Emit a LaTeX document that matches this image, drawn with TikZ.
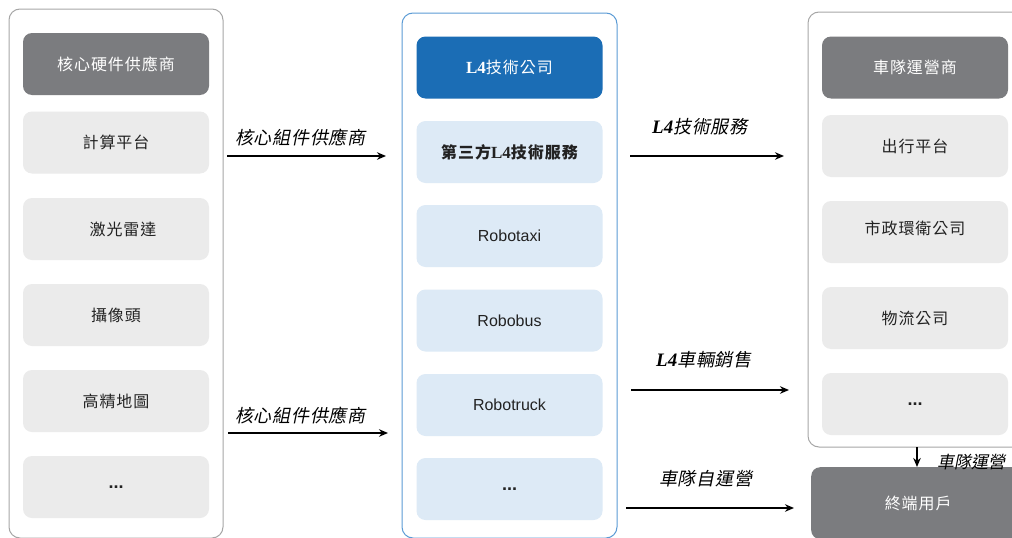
\documentclass[tikz,border=0pt]{standalone}
\usepackage{fontspec}
\setmainfont{Liberation Sans}
\newfontfamily\cjk[LetterSpace=6]{Noto Sans CJK TC}
\newfontfamily\cjksl[FakeSlant=0.2,LetterSpace=4]{Noto Sans CJK TC}
\newfontfamily\cjkslt[FakeSlant=0.2]{Noto Sans CJK TC}
\newfontfamily\tnr{Liberation Serif}
\usetikzlibrary{arrows.meta}
\definecolor{hdgray}{HTML}{7B7C7F}
\definecolor{itgray}{HTML}{EBEBEB}
\definecolor{boxline}{HTML}{A6A6A6}
\definecolor{hdblue}{HTML}{1B6DB5}
\definecolor{itblue}{HTML}{DDEAF6}
\definecolor{blueline}{HTML}{5B9BD5}
\definecolor{txt}{HTML}{222222}
\tikzset{
  container/.style={draw=boxline, line width=1pt, rounded corners=11pt, fill=white},
  bluecontainer/.style={draw=blueline, line width=1pt, rounded corners=11pt, fill=white},
  box/.style={rounded corners=9pt, minimum width=186pt, minimum height=62pt, inner sep=0pt, font=\cjk\fontsize{16}{19}\selectfont, text=txt},
  grayhead/.style={box, fill=hdgray, text=white},
  grayitem/.style={box, fill=itgray},
  bluehead/.style={box, fill=hdblue, text=white},
  blueitem/.style={box, fill=itblue},
  dots/.style={font=\bfseries\fontsize{18}{19}\selectfont},
  flow/.style={line width=2.3pt, -{Stealth[length=9pt,width=7.5pt]}},
  flowlabel/.style={font=\cjksl\fontsize{18}{21}\selectfont, text=black, inner sep=0pt},
}
\begin{document}
\begin{tikzpicture}[x=1pt,y=-1pt]
\useasboundingbox (0,0) rectangle (1012,538);
% containers
\draw[container] (9,9) rectangle (223,538);
\draw[bluecontainer] (402,13) rectangle (617,538);
\draw[container] (808,12) rectangle (1040,447);
\coordinate (rcb) at (917,447);

% left column
\node[grayhead] (lh) at (116,64) {核心硬件供應商};
\node[grayitem] (l1) at (116,142.5) {計算平台};
\node[grayitem] (l2) at (116,229) {\hspace*{14pt}激光雷達};
\node[grayitem] (l3) at (116,315) {攝像頭};
\node[grayitem] (l4) at (116,401) {高精地圖};
\node[grayitem, dots] (l5) at (116,487) {...};

% middle column
\node[bluehead] (mh) at (509.5,67.5) {{\tnr\bfseries\fontsize{17}{19}\selectfont L4}技術公司};
\node[blueitem, font=\cjk\bfseries\fontsize{16}{19}\selectfont] (m1) at (509.5,152) {第三方{\tnr\bfseries\fontsize{17}{19}\selectfont L4}技術服務};
\node[blueitem, font=\fontsize{16}{19}\selectfont] (m2) at (509.5,236) {Robotaxi};
\node[blueitem, font=\fontsize{16}{19}\selectfont] (m3) at (509.5,320.5) {Robobus};
\node[blueitem, font=\fontsize{16}{19}\selectfont] (m4) at (509.5,405) {Robotruck};
\node[blueitem, dots] (m5) at (509.5,489) {...};

% right column
\node[grayhead] (rh) at (915,67.5) {車隊運營商};
\node[grayitem] (r1) at (915,146) {出行平台};
\node[grayitem] (r2) at (915,232) {\raisebox{9pt}{市政環衛公司}};
\node[grayitem] (r3) at (915,318) {物流公司};
\node[grayitem, dots] (r4) at (915,404) {...};

% end user
\node[grayhead, minimum width=240pt, minimum height=72pt, anchor=north west, text width=210pt, align=center] (eu) at (811,467) {\raisebox{-3pt}{\hspace*{-26pt}終端用戶}};

% arrow end points
\coordinate (a1s) at (227,156);   \coordinate (a1e) at (386,156);
\coordinate (a2s) at (228,433);   \coordinate (a2e) at (388,433);
\coordinate (a3s) at (630,156);   \coordinate (a3e) at (784,156);
\coordinate (a4s) at (631,390);   \coordinate (a4e) at (789,390);
\coordinate (a5s) at (626,508);   \coordinate (a5e) at (794,508);

\draw[flow] (a1s) -- (a1e);
\draw[flow] (a2s) -- (a2e);
\draw[flow] (a3s) -- (a3e);
\draw[flow] (a4s) -- (a4e);
\draw[flow] (a5s) -- (a5e);
\draw[flow] (rcb) -- (rcb |- eu.north);

\node[flowlabel, anchor=west] (t1) at (235,137) {核心組件供應商};
\node[flowlabel, anchor=west] (t2) at (235,415) {核心組件供應商};
\node[flowlabel, anchor=west] (t3) at (652,127) {{\tnr\bfseries\itshape\fontsize{19}{21}\selectfont L4}技術服務};
\node[flowlabel, anchor=west] (t4) at (656,360) {{\tnr\bfseries\itshape\fontsize{19}{21}\selectfont L4}車輛銷售};
\node[flowlabel, anchor=west] (t5) at (659,479) {車隊自運營};
\node[flowlabel, anchor=west, font=\cjkslt\fontsize{17}{20}\selectfont] (t6) at (937,462) {車隊運營};
\end{tikzpicture}
\end{document}
